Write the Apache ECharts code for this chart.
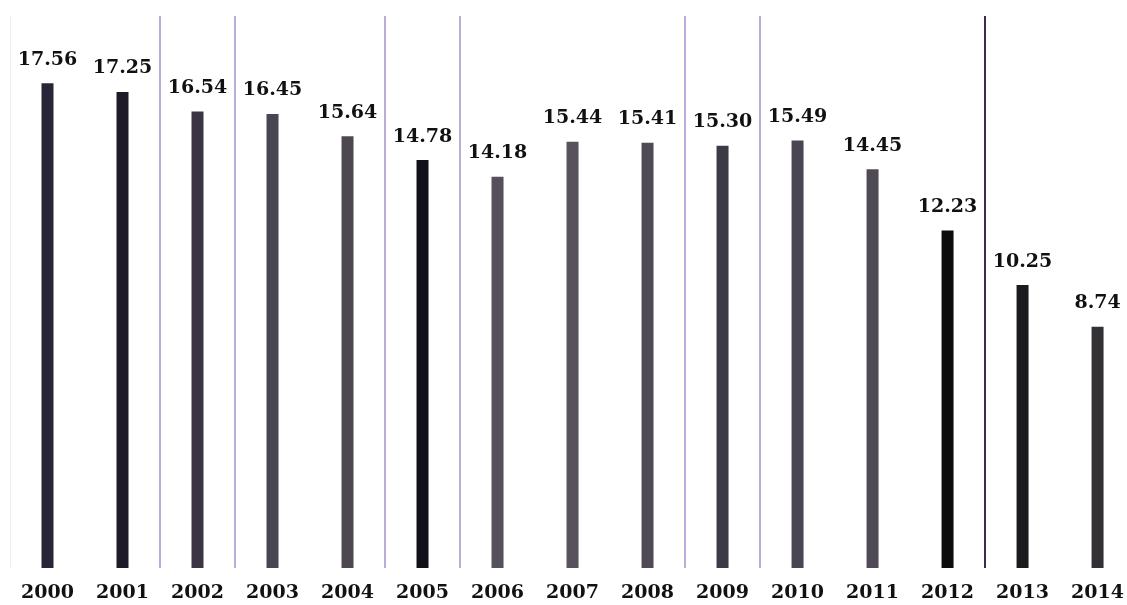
<!DOCTYPE html>
<html>
<head>
<meta charset="utf-8">
<script src="https://cdn.jsdelivr.net/npm/echarts@6/dist/echarts.min.js"></script>
<style>
html,body{margin:0;padding:0;background:#fff;}
#chart{width:1127px;height:605px;}
</style>
</head>
<body>
<div id="chart"></div>
<script>
const years = ['2000','2001','2002','2003','2004','2005','2006','2007','2008','2009','2010','2011','2012','2013','2014'];
const values = [17.56,17.25,16.54,16.45,15.64,14.78,14.18,15.44,15.41,15.30,15.49,14.45,12.23,10.25,8.74];
// separator lines between categories (category-boundary index)
const lightSeparators = [1.5,2.5,4.5,5.5,8.5,9.5];
const darkSeparators = [12.5];
const faintSeparators = [-0.5];
// bar shades (style)
const barColors = ['#2a2438','#1f1a28','#3a3444','#4a4552','#4d4850','#121018','#55505a','#57525c','#504a56','#3e3946','#4a4552','#4f4a55','#0c0b0e','#1c1a1f','#333036'];

const chart = echarts.init(document.getElementById('chart'));
const font = '"DejaVu Serif", serif';
const idx = years.map((y,i)=>i);
function sepLines(arr){ return arr.map(v => ({xAxis: v})); }
chart.setOption({
  animation: false,
  backgroundColor: '#ffffff',
  grid: {left: 10, right: 0, top: 16, bottom: 37, containLabel: false},
  xAxis: {type: 'value', min: -0.5, max: 14.39, axisLine: {show: false}, axisTick: {show: false, customValues: idx},
     splitLine: {show: false},
     axisLabel: {customValues: idx, formatter: v => years[Math.round(v)], color: '#111', fontFamily: font, fontWeight: 'bold', fontSize: 19, margin: 16}},
  yAxis: {type: 'value', min: 0, max: 20, show: false},
  series: [
    {type: 'bar', data: values.map((v,i)=>({value: [i, v], itemStyle: {color: barColors[i]}})),
     barWidth: 12,
     label: {show: true, position: 'top', distance: 14, color: '#111', fontFamily: font, fontWeight: 'bold', fontSize: 19,
       formatter: p => p.value[1].toFixed(2)}},
    {type: 'line', data: [], silent: true,
     markLine: {symbol: ['none','none'], label: {show: false}, silent: true,
       lineStyle: {color: '#a48fce', width: 1.5, type: 'solid'}, data: sepLines(lightSeparators)}},
    {type: 'line', data: [], silent: true,
     markLine: {symbol: ['none','none'], label: {show: false}, silent: true,
       lineStyle: {color: '#3b2b4d', width: 2, type: 'solid'}, data: sepLines(darkSeparators)}},
    {type: 'line', data: [], silent: true,
     markLine: {symbol: ['none','none'], label: {show: false}, silent: true,
       lineStyle: {color: '#e4e0ea', width: 1, type: 'dotted'}, data: sepLines(faintSeparators)}}
  ]
});
</script>
</body>
</html>
